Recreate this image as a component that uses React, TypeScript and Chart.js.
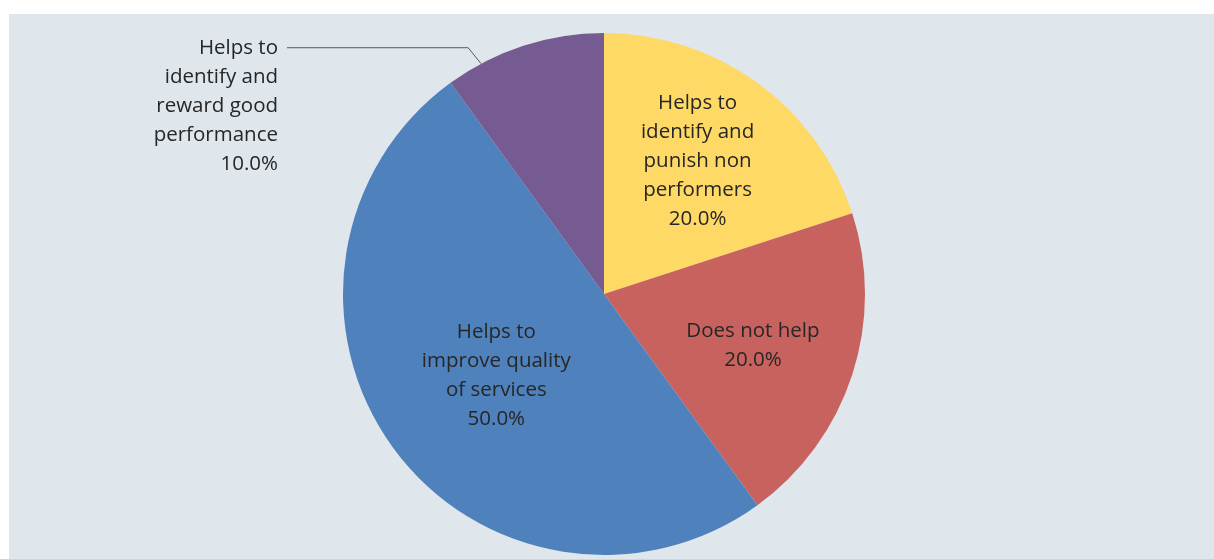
import React, { useEffect, useRef } from "react";
import { Chart, registerables } from "chart.js";

Chart.register(...registerables);

const categories: string[][] = [
  ["Helps to", "identify and", "punish non", "performers"],
  ["Does not help"],
  ["Helps to", "improve quality", "of services"],
  ["Helps to", "identify and", "reward good", "performance"],
];
const shares: number[] = [20, 20, 50, 10];
const colors: string[] = ["#FFD966", "#C8625F", "#4F81BD", "#765A92"];

const FONT = "20.5px 'Open Sans', Lato, sans-serif";
const TEXT = "#262626";
const LINE_H = 29;
// radial position of the inside labels as a fraction of the radius, plus a small vertical nudge
const insideFactor = [0.61, 0.6, 0.51, 0];
const insideNudge = [-4, 3, 3, 0];

const labelPlugin = {
  id: "pieLabels",
  afterDatasetsDraw(chart: any) {
    const ctx = chart.ctx as CanvasRenderingContext2D;
    const meta = chart.getDatasetMeta(0);
    const total = shares.reduce((a, b) => a + b, 0);
    ctx.save();
    ctx.font = FONT;
    ctx.fillStyle = TEXT;
    ctx.textBaseline = "middle";
    meta.data.forEach((arc: any, i: number) => {
      const p = arc.getProps(["x", "y", "startAngle", "endAngle", "outerRadius"], true);
      const pct = ((shares[i] / total) * 100).toFixed(1) + "%";
      const lines = [...categories[i], pct];
      if (i === 3) {
        const a = p.startAngle + 0.22 * (p.endAngle - p.startAngle);
        const ex = p.x + Math.cos(a) * p.outerRadius;
        const ey = p.y + Math.sin(a) * p.outerRadius;
        const elbowX = ex - 13;
        const elbowY = ey - 16;
        const startX = chart.chartArea.left - 56;
        ctx.strokeStyle = "#595959";
        ctx.lineWidth = 1;
        ctx.beginPath();
        ctx.moveTo(startX, elbowY);
        ctx.lineTo(elbowX, elbowY);
        ctx.lineTo(ex, ey);
        ctx.stroke();
        ctx.textAlign = "right";
        lines.forEach((l, k) => ctx.fillText(l, startX - 9, elbowY + k * LINE_H));
      } else {
        const mid = (p.startAngle + p.endAngle) / 2;
        const r = p.outerRadius * insideFactor[i];
        const cx = p.x + Math.cos(mid) * r;
        const cy = p.y + Math.sin(mid) * r + insideNudge[i];
        ctx.textAlign = "center";
        const top = cy - ((lines.length - 1) * LINE_H) / 2;
        lines.forEach((l, k) => ctx.fillText(l, cx, top + k * LINE_H));
      }
    });
    ctx.restore();
  },
};

export default function App() {
  const ref = useRef<HTMLCanvasElement | null>(null);
  useEffect(() => {
    if (!ref.current) return;
    const chart = new Chart(ref.current, {
      type: "pie",
      data: {
        labels: categories.map((c) => c.join(" ")),
        datasets: [
          {
            data: shares,
            backgroundColor: colors,
            borderWidth: 0,
          },
        ],
      },
      options: {
        animation: false,
        responsive: false,
        maintainAspectRatio: false,
        layout: { padding: { left: 343, right: 349, top: 33, bottom: 4 } },
        plugins: {
          legend: { display: false },
          tooltip: { enabled: false },
        },
      },
      plugins: [labelPlugin],
    });
    return () => chart.destroy();
  }, []);
  return (
    <div style={{ position: "fixed", left: 0, top: 0, width: 1214, height: 559, background: "#ffffff" }}>
      <div style={{ position: "absolute", left: 9, top: 14, width: 1205, height: 545, background: "#DFE6EC" }} />
      <canvas ref={ref} width={1214} height={559} style={{ position: "absolute", left: 0, top: 0, width: 1214, height: 559 }} />
    </div>
  );
}
